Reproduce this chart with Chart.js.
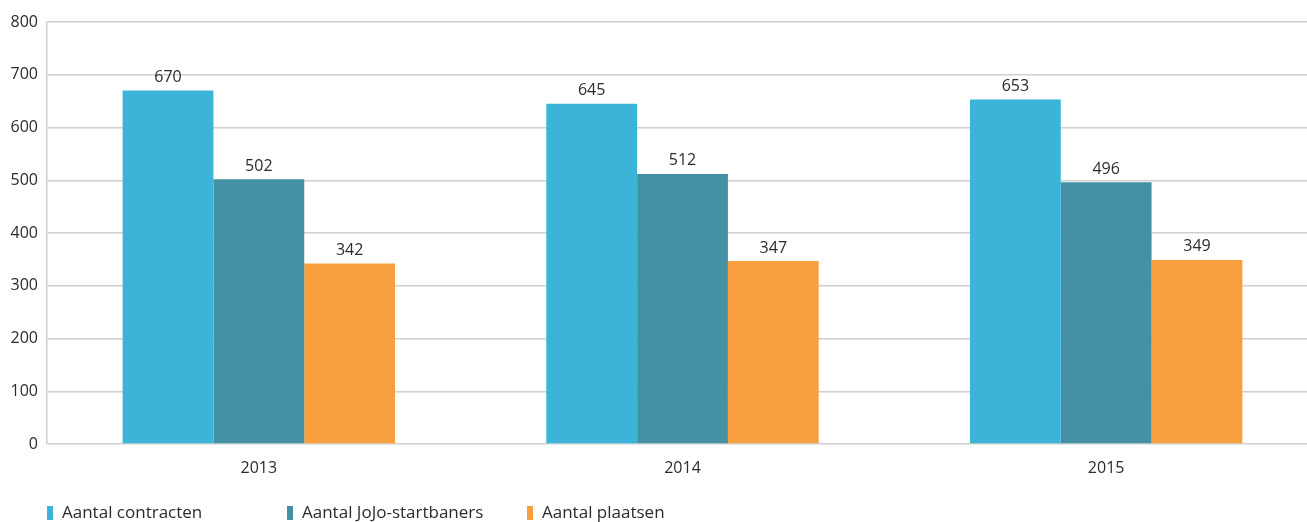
<!DOCTYPE html>
<html>
<head>
<meta charset="utf-8">
<script src="https://cdn.jsdelivr.net/npm/chart.js@4/dist/chart.umd.min.js"></script>
<style>
    body { margin: 0; background: #fff; font-family: 'Open Sans', sans-serif; }
    #wrap { position: relative; width: 1307px; height: 522px; overflow: hidden; }
    #legend { position: absolute; left: 47px; top: 502px; height: 20px; }
    .legend-item { position: absolute; top: 0; white-space: nowrap; font-size: 17px; color: #2b2b2b; line-height: 20px; }
    .legend-swatch { display: inline-block; width: 6px; height: 14px; vertical-align: -2px; margin-right: 9px; }
</style>
</head>
<body>
<div id="wrap">
    <!-- canvas is a bit wider than the page: the plot runs past the right edge in the original -->
    <canvas id="chart" width="1318" height="522"></canvas>
    <div id="legend"></div>
</div>
<script>
// --- Data ---
const years = ['2013', '2014', '2015'];
const contracten = [670, 645, 653];
const startbaners = [502, 512, 496];
const plaatsen = [342, 347, 349];
const seriesNames = ['Aantal contracten', 'Aantal JoJo-startbaners', 'Aantal plaatsen'];
const yTicks = [0, 100, 200, 300, 400, 500, 600, 700, 800];

const colors = ['#3cb4da', '#4491a5', '#f89f40'];

// value labels above each bar
const valueLabels = {
    id: 'valueLabels',
    afterDatasetsDraw(chart) {
        const ctx = chart.ctx;
        ctx.save();
        ctx.font = '16px "Open Sans"';
        ctx.fillStyle = '#2b2b2b';
        ctx.textAlign = 'center';
        ctx.textBaseline = 'bottom';
        chart.data.datasets.forEach((ds, i) => {
            chart.getDatasetMeta(i).data.forEach((bar, j) => {
                ctx.fillText(ds.data[j], bar.x, bar.y - 5);
            });
        });
        ctx.restore();
    }
};

const chart = new Chart(document.getElementById('chart'), {
    type: 'bar',
    data: {
        labels: years,
        datasets: [contracten, startbaners, plaatsen].map((d, i) => ({
            label: seriesNames[i],
            data: d,
            backgroundColor: colors[i],
            borderWidth: 0
        }))
    },
    options: {
        responsive: false,
        animation: false,
        layout: { padding: { top: 22, right: 0, bottom: 48, left: 0 } },
        datasets: { bar: { barPercentage: 1, categoryPercentage: 0.643 } },
        plugins: { legend: { display: false }, tooltip: { enabled: false } },
        scales: {
            x: {
                grid: { display: false },
                border: { display: false },
                ticks: { color: '#2b2b2b', font: { family: 'Open Sans', size: 16 }, padding: 7 },
                afterFit: s => { s.height = 30; }
            },
            y: {
                min: 0,
                max: 800,
                afterBuildTicks: s => { s.ticks = yTicks.map(v => ({ value: v })); },
                grid: { color: '#d0d0d0', lineWidth: 1.5, drawTicks: false },
                border: { display: true, color: '#d0d0d0', width: 1.5 },
                ticks: { color: '#2b2b2b', font: { family: 'Open Sans', size: 16 }, padding: 9 },
                afterFit: s => { s.width = 47; }
            }
        }
    },
    plugins: [valueLabels]
});

// --- Legend ---
const legendEl = document.getElementById('legend');
seriesNames.forEach((name, i) => {
    const item = document.createElement('div');
    item.className = 'legend-item';
    item.style.left = (i * 240) + 'px';
    item.innerHTML = `<span class="legend-swatch" style="background:${colors[i]}"></span>${name}`;
    legendEl.appendChild(item);
});
</script>
</body>
</html>
